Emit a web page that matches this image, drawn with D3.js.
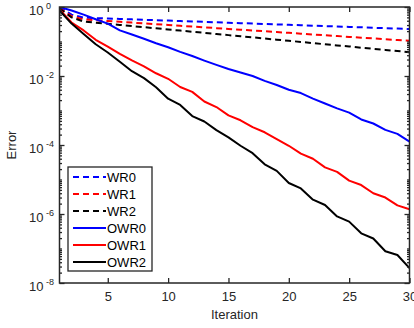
<!DOCTYPE html>
<html>
<head>
<meta charset="utf-8">
<script src="https://cdn.jsdelivr.net/npm/d3@7"></script>
<style>
  html, body { margin: 0; padding: 0; background: #fff; }
  svg { display: block; font-family: "Liberation Sans", Arial, Helvetica, sans-serif; }
</style>
</head>
<body>
<svg id="chart" width="414" height="328"></svg>
<script>
// ---------- data ----------
const iterations = d3.range(1, 31);
const seriesNames = ["WR0", "WR1", "WR2", "OWR0", "OWR1", "OWR2"];
const seriesColors = ["#0000ff", "#ff0000", "#000000", "#0000ff", "#ff0000", "#000000"];
const seriesDashed = [true, true, true, false, false, false];

const WR0 = [1.0, 0.60, 0.490, 0.476, 0.463, 0.451, 0.438, 0.426, 0.414, 0.403,
             0.392, 0.381, 0.371, 0.360, 0.350, 0.340, 0.331, 0.322, 0.313, 0.305,
             0.296, 0.288, 0.280, 0.272, 0.265, 0.258, 0.250, 0.243, 0.237, 0.230];
const WR1 = [0.95, 0.54, 0.437, 0.414, 0.393, 0.372, 0.353, 0.335, 0.318, 0.301,
             0.286, 0.271, 0.257, 0.244, 0.231, 0.219, 0.208, 0.198, 0.187, 0.178,
             0.169, 0.160, 0.152, 0.144, 0.136, 0.129, 0.123, 0.116, 0.110, 0.105];
const WR2 = [0.90, 0.50, 0.38, 0.352, 0.327, 0.303, 0.281, 0.260, 0.241, 0.223,
             0.207, 0.192, 0.178, 0.165, 0.153, 0.142, 0.132, 0.122, 0.113, 0.105,
             0.097, 0.090, 0.083, 0.077, 0.072, 0.066, 0.0615, 0.057, 0.053, 0.049];
const OWR0 = [1.0, 0.79, 0.60, 0.44, 0.33, 0.21, 0.16, 0.12, 0.089, 0.068,
              0.050, 0.038, 0.028, 0.021, 0.016, 0.0126, 0.0100, 0.0072, 0.0055, 0.0040,
              0.0032, 0.0022, 0.0016, 0.00115, 8.7e-4, 5.5e-4, 4.2e-4, 2.75e-4, 2.1e-4, 1.26e-4];
const OWR1 = [0.85, 0.355, 0.209, 0.112, 0.0708, 0.0437, 0.0282, 0.0191, 0.0120, 0.0083,
              0.0048, 0.00347, 0.00182, 0.00126, 7.2e-4, 5.2e-4, 3.3e-4, 2.34e-4, 1.48e-4, 9.5e-5,
              5.6e-5, 4.0e-5, 2.24e-5, 1.66e-5, 9.3e-6, 6.9e-6, 4.0e-6, 3.0e-6, 1.78e-6, 1.38e-6];
const OWR2 = [0.79, 0.33, 0.166, 0.083, 0.048, 0.026, 0.0138, 0.0087, 0.0047, 0.0022,
              0.00145, 6.9e-4, 4.8e-4, 2.7e-4, 1.66e-4, 9.5e-5, 5.8e-5, 2.75e-5, 1.78e-5, 7.9e-6,
              5.5e-6, 2.6e-6, 1.82e-6, 8.5e-7, 6.0e-7, 2.75e-7, 1.95e-7, 8.3e-8, 6.5e-8, 2.7e-8];
const seriesValues = [WR0, WR1, WR2, OWR0, OWR1, OWR2];

const xTicks = [5, 10, 15, 20, 25, 30];
const yTickExponents = [0, -2, -4, -6, -8];
const xLabel = "Iteration";
const yLabel = "Error";

// ---------- layout ----------
const svg = d3.select("#chart");
const L = 59.5, R = 409.5, T = 7, B = 283;
const axisColor = "#262626";
const fontSize = 13;

const x = d3.scaleLinear().domain([1, 30]).range([L, R]);
const y = d3.scaleLog().domain([1e-8, 1]).range([B, T]);

svg.append("defs").append("clipPath").attr("id", "clip")
  .append("rect").attr("x", L).attr("y", T).attr("width", R - L).attr("height", B - T);

// lines
const line = d3.line().x((d, i) => x(iterations[i])).y(d => y(d));
const plot = svg.append("g").attr("clip-path", "url(#clip)");
seriesValues.forEach((vals, k) => {
  plot.append("path")
    .datum(vals)
    .attr("d", line)
    .attr("fill", "none")
    .attr("stroke", seriesColors[k])
    .attr("stroke-width", 2)
    .attr("stroke-linejoin", "round")
    .attr("stroke-dasharray", seriesDashed[k] ? "6,4" : null);
});

// axes (MATLAB style: ticks inward, box)
const gx = svg.append("g").attr("transform", `translate(0,${B})`)
  .call(d3.axisBottom(x).tickValues(xTicks).tickSize(-5).tickPadding(9).tickFormat(d3.format("d")));
const gxt = svg.append("g").attr("transform", `translate(0,${T})`)
  .call(d3.axisTop(x).tickValues(xTicks).tickSize(-5).tickFormat(""));

const minorVals = [];
for (let e = -8; e < 0; e++) for (let m = 2; m <= 9; m++) minorVals.push(m * Math.pow(10, e));
for (let e = -7; e <= -1; e += 2) minorVals.push(Math.pow(10, e));
const majorVals = yTickExponents.map(e => Math.pow(10, e));

const gy = svg.append("g").attr("transform", `translate(${L},0)`)
  .call(d3.axisLeft(y).tickValues(majorVals).tickSize(-5).tickFormat(""));
const gym = svg.append("g").attr("transform", `translate(${L},0)`)
  .call(d3.axisLeft(y).tickValues(minorVals).tickSize(-2.5).tickFormat(""));
const gyr = svg.append("g").attr("transform", `translate(${R},0)`)
  .call(d3.axisRight(y).tickValues(majorVals).tickSize(-5).tickFormat(""));
const gyrm = svg.append("g").attr("transform", `translate(${R},0)`)
  .call(d3.axisRight(y).tickValues(minorVals).tickSize(-2.5).tickFormat(""));

[gx, gxt, gy, gym, gyr, gyrm].forEach(g => {
  g.select(".domain").remove();
  g.selectAll(".tick line").attr("stroke", axisColor).attr("stroke-width", 1.3);
  g.selectAll(".tick text").attr("fill", axisColor).attr("font-size", fontSize)
    .attr("font-family", "Liberation Sans, Arial, sans-serif");
});

svg.append("rect").attr("x", L).attr("y", T).attr("width", R - L).attr("height", B - T)
  .attr("fill", "none").attr("stroke", axisColor).attr("stroke-width", 1.5);

// y tick labels 10^e
yTickExponents.forEach(e => {
  const yy = y(Math.pow(10, e));
  const t = svg.append("text")
    .attr("x", 29).attr("y", yy + 8)
    .attr("fill", axisColor).attr("font-size", fontSize);
  t.append("tspan").text("10");
  t.append("tspan").attr("dx", 2.5).attr("dy", -6.5).attr("font-size", 9).text(e === 0 ? "0" : String(e));
});

// axis labels
svg.append("text").attr("x", (L + R) / 2).attr("y", 319)
  .attr("text-anchor", "middle").attr("fill", axisColor).attr("font-size", fontSize).text(xLabel);
svg.append("text").attr("transform", `translate(16,${(T + B) / 2}) rotate(-90)`)
  .attr("text-anchor", "middle").attr("fill", axisColor).attr("font-size", fontSize).text(yLabel);

// legend
const lg = svg.append("g");
lg.append("rect").attr("x", 68).attr("y", 167).attr("width", 84).attr("height", 104)
  .attr("fill", "#fff").attr("stroke", axisColor).attr("stroke-width", 1.3);
seriesNames.forEach((name, k) => {
  const yy = 177 + k * 17;
  lg.append("line").attr("x1", 73).attr("x2", 106).attr("y1", yy).attr("y2", yy)
    .attr("stroke", seriesColors[k]).attr("stroke-width", 2)
    .attr("stroke-dasharray", seriesDashed[k] ? "6,4" : null);
  lg.append("text").attr("x", 107).attr("y", yy + 4.5).attr("fill", "#000")
    .attr("font-size", fontSize).text(name);
});
</script>
</body>
</html>
